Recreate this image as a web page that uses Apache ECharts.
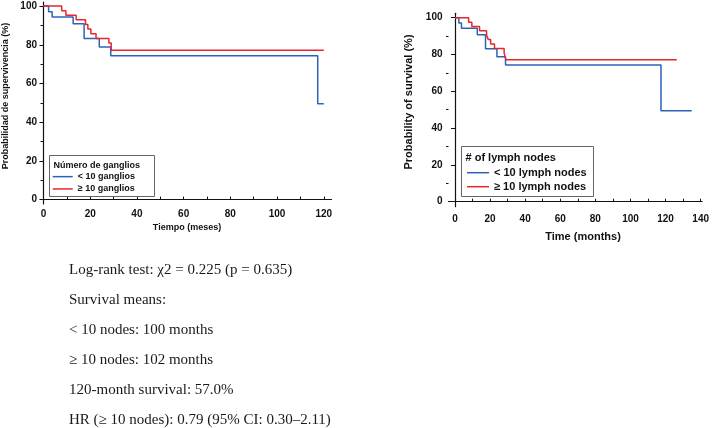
<!DOCTYPE html>
<html>
<head>
<meta charset="utf-8">
<script src="https://cdn.jsdelivr.net/npm/echarts@6/dist/echarts.min.js"></script>
<style>
html, body { margin: 0; padding: 0; background: #fff; }
#main { width: 712px; height: 428px; }
</style>
</head>
<body>
<div id="main"></div>
<script>
// Kaplan-Meier steps (time in months, survival %)
var lowTimes = [0, 2.2, 3.7, 12.7, 17.4, 23.9, 28.8, 117.4];
var lowSurv = [100, 97.1, 94.3, 90.8, 83.2, 78.8, 74.3, 49.5];
var highTimes = [0, 7.8, 9.6, 14.0, 18.0, 19.0, 20.3, 22.5, 28.0, 29.0];
var highSurv = [100, 97.6, 95.2, 92.9, 90.5, 88.1, 85.7, 83.3, 80.9, 77.1];

// last follow-up of each curve
var leftEnd = 120;
var rightEndLow = 134.9;
var rightEndHigh = 126.4;

var namesEs = ['< 10 ganglios', '≥ 10 ganglios'];
var namesEn = ['< 10 lymph nodes', '≥ 10 lymph nodes'];

var yTicks = [0, 20, 40, 60, 80, 100];
var yMinorTicks = [10, 30, 50, 70, 90];
var xTicksLeft = [0, 20, 40, 60, 80, 100, 120];
var xMinorLeft = [0, 10, 20, 30, 40, 50, 60, 70, 80, 90, 100, 110, 120];
var xTicksRight = [0, 20, 40, 60, 80, 100, 120, 140];
var xMinorRight = [0, 10, 20, 30, 40, 50, 60, 70, 80, 90, 100, 110, 120, 130, 140];

var statLines = [
    'Log-rank test: χ2 = 0.225 (p = 0.635)',
    'Survival means:',
    '< 10 nodes: 100 months',
    '≥ 10 nodes: 102 months',
    '120-month survival: 57.0%',
    'HR (≥ 10 nodes): 0.79 (95% CI: 0.30–2.11)'
];

var BLUE = '#2a63b9';
var RED = '#e5262f';
var AXIS = '#111';
var SANS = '"Liberation Sans", Arial, sans-serif';

function steps(times, surv, end) {
    var out = [];
    for (var i = 0; i < times.length; i++) {
        if (times[i] <= end) out.push([times[i], surv[i]]);
    }
    out.push([end, out[out.length - 1][1]]);
    return out;
}

function xAxisOf(grid, min, max, labels, ticks, margin) {
    return {
        type: 'value', gridIndex: grid, min: min, max: max, position: 'bottom',
        splitLine: {show: false},
        axisLine: {lineStyle: {color: AXIS, width: 1.2}},
        axisTick: {inside: true, length: 3, customValues: ticks, lineStyle: {color: AXIS}},
        axisLabel: {customValues: labels, margin: margin, color: AXIS, fontSize: 10, fontWeight: 'bold', fontFamily: SANS}
    };
}

function yAxisOf(grid, min, max) {
    return {
        type: 'value', gridIndex: grid, min: min, max: max, position: 'left',
        splitLine: {show: false},
        axisLine: {lineStyle: {color: AXIS, width: 1.2}},
        axisTick: {length: 4, customValues: yTicks, lineStyle: {color: AXIS}},
        axisLabel: {customValues: yTicks, margin: 6, color: AXIS, fontSize: 10, fontWeight: 'bold', fontFamily: SANS}
    };
}

// second axis on each grid just for the short minor ticks
function yMinorOf(grid, min, max) {
    return {
        type: 'value', gridIndex: grid, min: min, max: max, position: 'left', offset: 0,
        splitLine: {show: false},
        axisLine: {show: false, onZero: false},
        axisTick: {length: 2.5, customValues: yMinorTicks, lineStyle: {color: AXIS}},
        axisLabel: {show: false}
    };
}

function lineSeries(name, color, xi, yi, data) {
    return {
        name: name, type: 'line', step: 'end', symbol: 'none',
        xAxisIndex: xi, yAxisIndex: yi,
        lineStyle: {color: color, width: 1.5},
        itemStyle: {color: color},
        data: data
    };
}

var graphics = [
    // axis titles
    {type: 'text', x: 6, y: 96, rotation: Math.PI / 2,
        style: {text: 'Probabilidad de supervivencia (%)', align: 'center', verticalAlign: 'middle', font: 'bold 9px ' + SANS, fill: AXIS}},
    {type: 'text', x: 187, y: 228,
        style: {text: 'Tiempo (meses)', align: 'center', verticalAlign: 'middle', font: 'bold 9px ' + SANS, fill: AXIS}},
    {type: 'text', x: 409, y: 102, rotation: Math.PI / 2,
        style: {text: 'Probability of survival (%)', align: 'center', verticalAlign: 'middle', font: 'bold 11px ' + SANS, fill: AXIS}},
    {type: 'text', x: 583, y: 237,
        style: {text: 'Time (months)', align: 'center', verticalAlign: 'middle', font: 'bold 11px ' + SANS, fill: AXIS}},
    // legend frames and titles
    {type: 'rect', shape: {x: 49.5, y: 155.5, width: 105, height: 41},
        style: {fill: '#fff', stroke: '#666', lineWidth: 1}, z: 5},
    {type: 'text', x: 53.5, y: 165.7, z: 6,
        style: {text: 'Número de ganglios', verticalAlign: 'middle', font: 'bold 9px ' + SANS, fill: AXIS}},
    {type: 'rect', shape: {x: 461.5, y: 146.5, width: 132, height: 50},
        style: {fill: '#fff', stroke: '#666', lineWidth: 1}, z: 5},
    {type: 'text', x: 465.5, y: 158.3, z: 6,
        style: {text: '# of lymph nodes', verticalAlign: 'middle', font: 'bold 11px ' + SANS, fill: AXIS}}
];

statLines.forEach(function (t, i) {
    graphics.push({type: 'text', x: 69, y: 270 + i * 30,
        style: {text: t, verticalAlign: 'middle', font: '15px "Liberation Serif", "Times New Roman", serif', fill: '#1a1a1a'}});
});

var option = {
    backgroundColor: '#fff',
    animation: false,
    grid: [
        {left: 43, top: 2, width: 288.5, height: 202},
        {left: 448.5, top: 13.3, width: 255.5, height: 193.4}
    ],
    xAxis: [
        xAxisOf(0, -0.2, 123.3, xTicksLeft, xMinorLeft, 5),
        xAxisOf(1, -3.7, 140.8, xTicksRight, xMinorRight, 8)
    ],
    yAxis: [
        yAxisOf(0, -2.3, 102.1),
        yMinorOf(0, -2.3, 102.1),
        yAxisOf(1, -2.7, 102.4),
        yMinorOf(1, -2.7, 102.4)
    ],
    legend: [
        {data: namesEs, orient: 'vertical', left: 52.7, top: 170.5, padding: 0, itemGap: 0,
            itemWidth: 20, itemHeight: 1.5, icon: 'rect', selectedMode: false, z: 10,
            textStyle: {fontSize: 9, fontWeight: 'bold', fontFamily: SANS, color: AXIS, lineHeight: 12.3}},
        {data: namesEn, orient: 'vertical', left: 467, top: 165.7, padding: 0, itemGap: 0,
            itemWidth: 22, itemHeight: 1.5, icon: 'rect', selectedMode: false, z: 10,
            textStyle: {fontSize: 11, fontWeight: 'bold', fontFamily: SANS, color: AXIS, lineHeight: 14}}
    ],
    series: [
        lineSeries(namesEs[0], BLUE, 0, 0, steps(lowTimes, lowSurv, leftEnd)),
        lineSeries(namesEs[1], RED, 0, 0, steps(highTimes, highSurv, leftEnd)),
        lineSeries(namesEn[0], BLUE, 1, 2, steps(lowTimes, lowSurv, rightEndLow)),
        lineSeries(namesEn[1], RED, 1, 2, steps(highTimes, highSurv, rightEndHigh))
    ],
    graphic: graphics
};

var myChart = echarts.init(document.getElementById('main'));
myChart.setOption(option);
</script>
</body>
</html>
